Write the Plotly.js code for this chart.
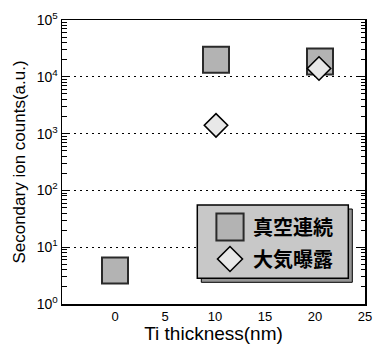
<!DOCTYPE html>
<html><head><meta charset="utf-8">
<script src="https://cdn.plot.ly/plotly-3.0.1.min.js"></script>
<style>html,body{margin:0;padding:0;background:#fff;}#chart{width:374px;height:344px;}</style>
</head><body><div id="chart"></div>
<script>
// Data
var seriesNames = ['真空連続', '大気曝露'];
var vacuumX = [0, 10.1, 20.5];
var vacuumY = [3.9, 20000, 18500];
var airX = [10.1, 20.4];
var airY = [1400, 14000];
var yTickVals = [1, 10, 100, 1000, 10000, 100000];
var yTickText = ['10<sup>0</sup>', '10<sup>1</sup>', '10<sup>2</sup>', '10<sup>3</sup>', '10<sup>4</sup>', '10<sup>5</sup>'];
var xTickVals = [0, 5, 10, 15, 20, 25];

// minor tick positions (2..9 within each decade) - axis styling only
var minorVals = [];
for (var d = 0; d < 5; d++) for (var m = 2; m <= 9; m++) minorVals.push(m * Math.pow(10, d));

var traces = [
  {x: vacuumX, y: vacuumY, name: seriesNames[0], type: 'scatter', mode: 'markers', legendgroup: 'a',
   marker: {symbol: 'square', size: 26, color: '#b3b3b3', line: {color: '#2a2a2a', width: 2}}},
  {x: airX, y: airY, name: seriesNames[1], type: 'scatter', mode: 'markers', legendgroup: 'b',
   marker: {symbol: 'diamond', size: 18, color: '#e8e8e8', line: {color: '#000', width: 1.6}}}
];

var L = 62, R = 9, T = 20, B = 40, W = 374, H = 344;
var pw = W - L - R, ph = H - T - B;
function px(x) { return (x - L) / pw; }
function py(y) { return (H - B - y) / ph; }

var layout = {
  width: W, height: H,
  margin: {l: L, r: R, t: T, b: B},
  paper_bgcolor: '#fff', plot_bgcolor: '#fff',
  font: {family: 'Liberation Sans, Arial, sans-serif', color: '#000'},
  showlegend: true,
  xaxis: {
    range: [-5.3, 25], tickmode: 'array', tickvals: xTickVals,
    showgrid: false, zeroline: false, showline: true, mirror: true,
    linecolor: '#000', linewidth: 1.5, ticks: '', ticklen: 0,
    tickfont: {size: 13}, fixedrange: true,
    title: {text: 'Ti thickness(nm)', font: {size: 19}, standoff: 1}
  },
  yaxis: {
    type: 'log', range: [0, 5], tickmode: 'array', tickvals: yTickVals, ticktext: yTickText,
    showgrid: true, gridcolor: '#000', gridwidth: 1.3, griddash: '2px,4px',
    zeroline: false, showline: true, mirror: 'ticks',
    linecolor: '#000', linewidth: 1.5, ticks: 'inside', ticklen: 7, tickwidth: 1.2, tickcolor: '#000',
    tickfont: {size: 14}, fixedrange: true,
    minor: {tickmode: 'array', tickvals: minorVals, ticks: 'inside', ticklen: 4.5, tickwidth: 1, tickcolor: '#000', showgrid: false},
    title: {text: 'Secondary ion counts(a.u.)', font: {size: 17}, standoff: 6}
  },
  legend: {
    x: px(207), y: py(207.5), xanchor: 'left', yanchor: 'top',
    bgcolor: 'rgba(0,0,0,0)', borderwidth: 0, itemwidth: 36,
    font: {family: 'Noto Sans CJK JP, sans-serif', size: 20, weight: 'bold', color: '#000'},
    traceorder: 'grouped', tracegroupgap: 3, itemsizing: 'trace'
  },
  shapes: [
    {type: 'rect', xref: 'paper', yref: 'paper', layer: 'above',
     x0: px(201.3), x1: px(352.3), y0: py(282.3), y1: py(209),
     fillcolor: '#959595', line: {color: '#000', width: 1}},
    {type: 'rect', xref: 'paper', yref: 'paper', layer: 'above',
     x0: px(197.3), x1: px(348.3), y0: py(278.3), y1: py(205),
     fillcolor: '#c8c8c8', line: {color: '#000', width: 1.5}}
  ]
};

Plotly.newPlot('chart', traces, layout, {staticPlot: true, displayModeBar: false}).then(function (gd) {
  // enlarge legend swatches to match the reference (legend caps marker size at 16px)
  var scales = [1.7, 1.2];
  var groups = gd.querySelectorAll('.legend .traces');
  groups.forEach(function (g, i) {
    var s = scales[i] || 1;
    g.querySelectorAll('path.scatterpts').forEach(function (p) {
      var t = p.getAttribute('transform') || '';
      p.setAttribute('transform', t + ' scale(' + s + ')');
      var sw = parseFloat(p.style.strokeWidth) || 1.5;
      p.style.strokeWidth = (sw / s) + 'px';
    });
  });
});
</script></body></html>
